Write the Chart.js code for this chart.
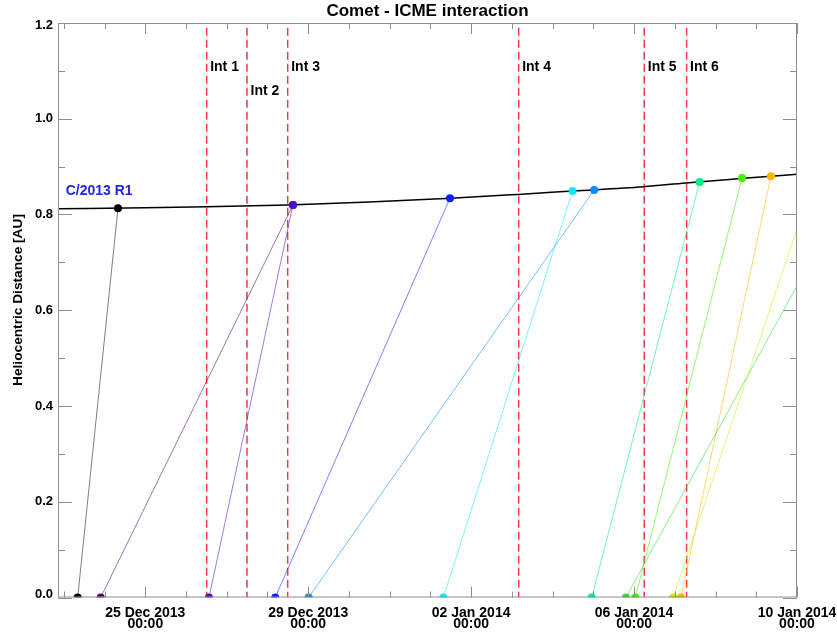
<!DOCTYPE html>
<html>
<head>
<meta charset="utf-8">
<script src="https://cdn.jsdelivr.net/npm/chart.js@4.4.1/dist/chart.umd.min.js"></script>
<style>
  html, body { margin: 0; padding: 0; background: #fff; }
</style>
</head>
<body>
<canvas id="chart" width="837" height="635"></canvas>
<script>
// x values are days counted from 25 Dec 2013 00:00
const xMin = -2.143, xMax = 16;
const xTickDays = [0, 4, 8, 12, 16];
const xTickLabels = [
    ['25 Dec 2013', '00:00'],
    ['29 Dec 2013', '00:00'],
    ['02 Jan 2014', '00:00'],
    ['06 Jan 2014', '00:00'],
    ['10 Jan 2014', '00:00']
];
const yTicks = [0.0, 0.2, 0.4, 0.6, 0.8, 1.0, 1.2];

// Comet C/2013 R1 heliocentric distance
const cometDays = [-2.143, 0, 1.5, 3.5, 5.5, 7.5, 9.15, 10.5, 12.23, 13.27, 14.6, 16];
const cometR    = [0.812, 0.814, 0.816, 0.820, 0.826, 0.834, 0.842, 0.849, 0.858, 0.866, 0.875, 0.884];

// Interaction times
const intNames  = ['Int 1', 'Int 2', 'Int 3', 'Int 4', 'Int 5', 'Int 6'];
const intDays   = [1.507, 2.497, 3.496, 9.167, 12.25, 13.29];
const intLabelR = [1.1, 1.05, 1.1, 1.1, 1.1, 1.1];

// ICMEs: launch from the Sun (r = 0) and arrival at the comet
const cmeLaunch = [-1.66, -1.095, 1.564, 3.19, 4.01, 7.32, 10.96, 11.80, 12.03, 12.96, 13.15];
const cmeEndDay = [-0.67, 3.626, 3.626, 7.48, 11.02, 10.49, 13.61, 16, 14.65, 16, 15.36];
const cmeEndR   = [0.813, 0.820, 0.820, 0.834, 0.851, 0.849, 0.868, 0.651, 0.876, 0.770, 0.880];
const cmeHits   = [true, true, true, true, true, true, true, false, true, false, true];
const cmeColors = ['#000000', '#52006e', '#4a10c8', '#0a22ff', '#0a8cff', '#10e4ff',
                   '#00ee8c', '#28e030', '#44f000', '#c4f000', '#ffb400'];

function withAlpha(hex, a) {
    const n = parseInt(hex.slice(1), 16);
    return `rgba(${n >> 16},${(n >> 8) & 255},${n & 255},${a})`;
}

const FONT = '"Liberation Sans", Arial, Helvetica, sans-serif';

const datasets = [];

// dots on top
const dotData = [], dotColors = [];
cmeLaunch.forEach((d, i) => {
    dotData.push({ x: d, y: 0 });
    dotColors.push(cmeColors[i]);
    if (cmeHits[i]) {
        dotData.push({ x: cmeEndDay[i], y: cmeEndR[i] });
        dotColors.push(cmeColors[i]);
    }
});
datasets.push({
    type: 'scatter',
    data: dotData,
    showLine: false,
    pointRadius: 4,
    pointBorderWidth: 0,
    pointBackgroundColor: dotColors,
    order: 1,
    clip: 0
});

// comet orbit
datasets.push({
    type: 'line',
    data: cometDays.map((d, i) => ({ x: d, y: cometR[i] })),
    borderColor: '#000000',
    borderWidth: 1.5,
    pointRadius: 0,
    cubicInterpolationMode: 'monotone',
    order: 2,
    clip: 0
});

// ICME lines
cmeLaunch.forEach((d, i) => {
    datasets.push({
        type: 'line',
        data: [{ x: d, y: 0 }, { x: cmeEndDay[i], y: cmeEndR[i] }],
        borderColor: withAlpha(cmeColors[i], i === 0 ? 0.5 : 0.55),
        borderWidth: 1,
        pointRadius: 0,
        order: 3,
        clip: 0
    });
});

// interaction markers
intDays.forEach(d => {
    datasets.push({
        type: 'line',
        data: [{ x: d, y: 1.19 }, { x: d, y: 0 }],
        borderColor: '#f23c3c',
        borderWidth: 1.5,
        borderDash: [8, 4],
        pointRadius: 0,
        order: 4,
        clip: 0
    });
});

// Axes frame, inward ticks, labels and annotations
const framePlugin = {
    id: 'frame',
    afterDatasetsDraw(chart) {
        const ctx = chart.ctx;
        const area = chart.chartArea;
        const xs = chart.scales.x, ys = chart.scales.y;
        ctx.save();

        // frame
        ctx.strokeStyle = '#8e8e8e';
        ctx.lineWidth = 1;
        ctx.strokeRect(area.left + 0.5, area.top + 0.5, area.right - area.left - 1, area.bottom - area.top - 1);

        ctx.beginPath();
        // x ticks: minor every day, major every 4 days
        for (let d = Math.ceil(xMin); d <= xMax; d++) {
            const px = Math.round(xs.getPixelForValue(d)) + 0.5;
            const len = xTickDays.includes(d) ? 11 : 6;
            ctx.moveTo(px, area.bottom); ctx.lineTo(px, area.bottom - len);
            ctx.moveTo(px, area.top); ctx.lineTo(px, area.top + len);
        }
        // y ticks: minor every 0.1, major every 0.2
        for (let k = 0; k <= 12; k++) {
            const py = Math.round(ys.getPixelForValue(k / 10)) + 0.5;
            const len = k % 2 === 0 ? 14 : 7;
            ctx.moveTo(area.left, py); ctx.lineTo(area.left + len, py);
            ctx.moveTo(area.right, py); ctx.lineTo(area.right - len, py);
        }
        ctx.stroke();

        ctx.fillStyle = '#000';
        // y tick labels
        ctx.font = 'bold 13px ' + FONT;
        ctx.textAlign = 'right';
        ctx.textBaseline = 'middle';
        yTicks.forEach(v => {
            ctx.fillText(v.toFixed(1), area.left - 5, ys.getPixelForValue(v) - (v === 0 ? 3 : 0) + (v === 1.2 ? 2 : 0));
        });

        // x tick labels
        ctx.font = 'bold 14px ' + FONT;
        ctx.textAlign = 'center';
        ctx.textBaseline = 'alphabetic';
        xTickDays.forEach((d, i) => {
            const px = xs.getPixelForValue(d);
            ctx.fillText(xTickLabels[i][0], px, area.bottom + 19);
            ctx.fillText(xTickLabels[i][1], px, area.bottom + 30);
        });

        // interaction labels
        ctx.font = 'bold 14px ' + FONT;
        ctx.textAlign = 'left';
        intDays.forEach((d, i) => {
            ctx.fillText(intNames[i], xs.getPixelForValue(d) + 3.5, ys.getPixelForValue(intLabelR[i]));
        });

        // comet label
        ctx.fillStyle = '#2323e6';
        ctx.fillText('C/2013 R1', xs.getPixelForValue(-1.954), ys.getPixelForValue(0.840));

        // title
        ctx.fillStyle = '#000';
        ctx.font = 'bold 17px ' + FONT;
        ctx.textAlign = 'center';
        ctx.fillText('Comet - ICME interaction', (area.left + area.right) / 2, 15.5);

        // y axis title
        ctx.translate(18, 300);
        ctx.rotate(-Math.PI / 2);
        ctx.font = 'bold 13.7px ' + FONT;
        ctx.textBaseline = 'middle';
        ctx.fillText('Heliocentric Distance [AU]', 0, 0);

        ctx.restore();
    }
};

new Chart(document.getElementById('chart'), {
    type: 'line',
    data: { datasets: datasets },
    options: {
        responsive: false,
        animation: false,
        layout: { padding: { left: 58, right: 40, top: 23, bottom: 37.5 } },
        plugins: {
            legend: { display: false },
            tooltip: { enabled: false },
            title: { display: false }
        },
        scales: {
            x: { type: 'linear', min: xMin, max: xMax, display: false },
            y: { type: 'linear', min: 0, max: 1.2, display: false }
        }
    },
    plugins: [framePlugin]
});
</script>
</body>
</html>
